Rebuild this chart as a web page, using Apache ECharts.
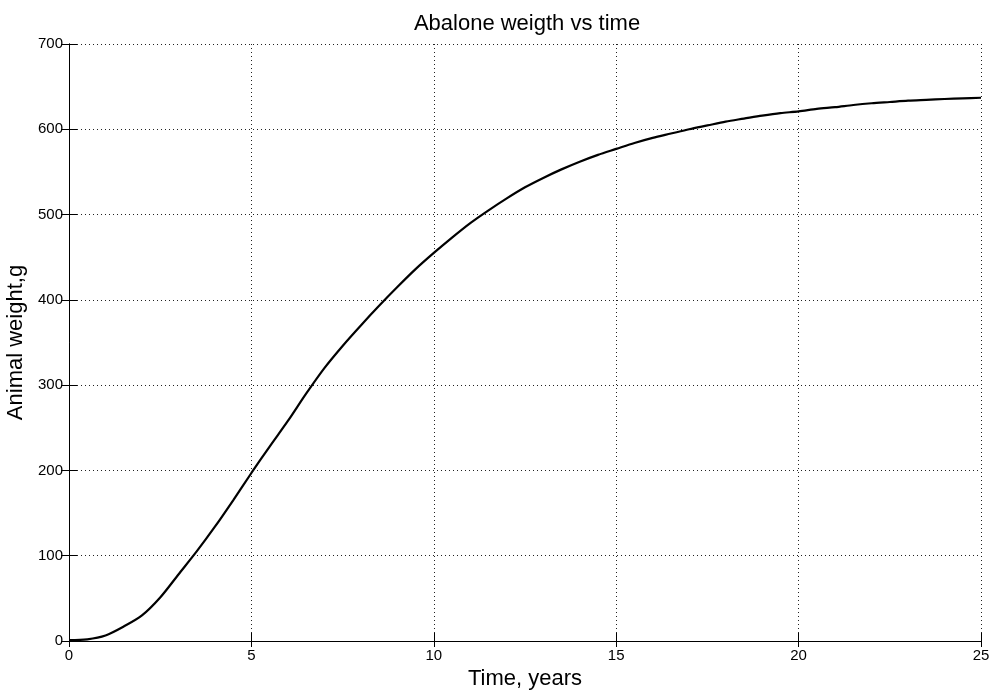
<!DOCTYPE html>
<html>
<head>
<meta charset="utf-8">
<title>Abalone weigth vs time</title>
<script src="https://cdn.jsdelivr.net/npm/echarts@6/dist/echarts.min.js"></script>
<style>
  html, body { margin: 0; padding: 0; background: #fff; }
  #chart { width: 990px; height: 693px; }
</style>
</head>
<body>
<div id="chart"></div>
<script>
// Time axis (years) and the animal weight (g) at each time step
const timeYears = [0, 0.5, 1, 1.5, 2, 2.5, 3, 3.5, 4, 4.5, 5, 5.5, 6, 6.5, 7, 7.5, 8, 8.5, 9, 9.5,
  10, 10.5, 11, 11.5, 12, 12.5, 13, 13.5, 14, 14.5, 15, 15.5, 16, 16.5, 17, 17.5, 18, 18.5, 19, 19.5,
  20, 20.5, 21, 21.5, 22, 22.5, 23, 23.5, 24, 24.5, 25];
const weightGrams = [1, 2, 6.5, 17, 30, 51, 78, 105, 134, 165, 197, 228, 258, 290, 320, 346, 370, 393, 415, 436,
  455, 473, 490, 505, 519, 532, 543, 553, 562, 570, 577, 584, 590, 595, 600, 604.5, 609, 612.5, 616, 619,
  621, 624, 626, 628.5, 630.5, 632, 633.5, 634.5, 635.5, 636.3, 637];

const xTicks = { min: 0, max: 25, interval: 5 };
const yTicks = { min: 0, max: 700, interval: 100 };

const titleText = 'Abalone weigth vs time';
const xName = 'Time, years';
const yName = 'Animal weight,g';

const font = 'Liberation Sans, Arial, sans-serif';
const gridLine = { show: true, lineStyle: { color: '#222', width: 1, type: [1, 3] } };

const chart = echarts.init(document.getElementById('chart'), null, { renderer: 'canvas' });
chart.setOption({
  backgroundColor: '#fff',
  animation: false,
  title: {
    text: titleText,
    left: 522, top: 8, textAlign: 'center',
    textStyle: { fontFamily: font, fontSize: 22, fontWeight: 'normal', color: '#000' }
  },
  grid: { left: 69, right: 9, top: 44, bottom: 52, containLabel: false, outerBoundsMode: 'none' },
  xAxis: [
    {
      type: 'value', position: 'bottom',
      min: xTicks.min, max: xTicks.max, interval: xTicks.interval,
      name: xName, nameLocation: 'middle', nameGap: 25,
      nameTextStyle: { fontFamily: font, fontSize: 22, color: '#000' },
      axisLine: { show: true, onZero: false, lineStyle: { color: '#000', width: 1 } },
      axisTick: { show: true, inside: true, length: 8, lineStyle: { color: '#000' } },
      axisLabel: { fontFamily: font, fontSize: 15, color: '#000', margin: 7 },
      splitLine: gridLine
    },
    {
      type: 'value', position: 'top',
      min: xTicks.min, max: xTicks.max, interval: xTicks.interval,
      axisLine: { show: true, lineStyle: { color: '#000', width: 1 } },
      axisTick: { show: true, inside: true, length: 6, lineStyle: { color: '#000' } },
      axisLabel: { show: false },
      splitLine: { show: false }
    }
  ],
  yAxis: [
    {
      type: 'value', position: 'left',
      min: yTicks.min, max: yTicks.max, interval: yTicks.interval,
      name: yName, nameLocation: 'middle', nameGap: 36, nameRotate: 90,
      nameTextStyle: { fontFamily: font, fontSize: 22, color: '#000' },
      axisLine: { show: true, onZero: false, lineStyle: { color: '#000', width: 1 } },
      axisTick: { show: true, inside: true, length: 8, lineStyle: { color: '#000' } },
      axisLabel: { fontFamily: font, fontSize: 15, color: '#000', margin: 6 },
      splitLine: gridLine
    },
    {
      type: 'value', position: 'right',
      min: yTicks.min, max: yTicks.max, interval: yTicks.interval,
      axisLine: { show: true, lineStyle: { color: '#000', width: 1 } },
      axisTick: { show: true, inside: true, length: 8, lineStyle: { color: '#000' } },
      axisLabel: { show: false },
      splitLine: { show: false }
    }
  ],
  series: [
    {
      type: 'line',
      xAxisIndex: 0, yAxisIndex: 0,
      data: timeYears.map((t, i) => [t, weightGrams[i]]),
      showSymbol: false,
      smooth: 0.3,
      lineStyle: { color: '#000', width: 2.2 },
      clip: true
    }
  ]
});
</script>
</body>
</html>
